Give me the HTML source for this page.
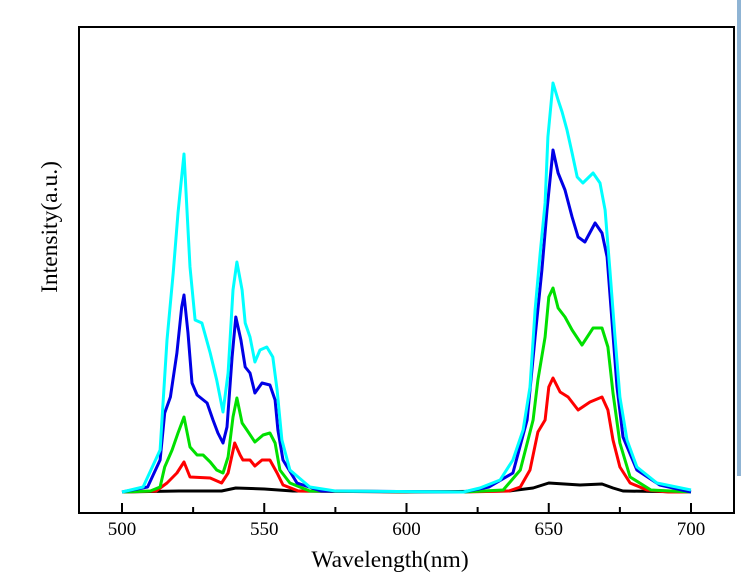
<!DOCTYPE html>
<html><head><meta charset="utf-8"><style>
html,body{margin:0;padding:0;background:#fff;}
svg{display:block;font-family:"Liberation Serif",serif;}
</style></head><body>
<svg width="741" height="577">
<rect x="737" y="0" width="4" height="476" fill="#8fb4d4"/>
<rect x="79" y="27" width="655" height="486" fill="none" stroke="#000" stroke-width="2"/>
<g id="ticks"></g>
<g id="series"></g>
<text x="57" y="227" font-size="23.5" text-anchor="middle" transform="rotate(-90 57 227)">Intensity(a.u.)</text>
<text x="390" y="567" font-size="23.5" text-anchor="middle">Wavelength(nm)</text>
</svg>
<script>
const xTicks=[500,550,600,650,700];
const minorTicks=[525,575,625,675];
const blackWl=[500,520,535,540,550,560,600,636,644.5,650,661,668.7,672.6,676.1,700];
const blackVal=[0,1,1,4,3,1,0,1,4,9,7,8,4,1,0];
const redWl=[500,512,515.8,519.3,521.8,523.9,531,535,537.3,539.6,541.5,542.5,545,546.7,549.2,552,554.5,556.6,562,620,636,640,643.4,646.2,648.7,650,651.5,654,656.8,660.3,664.5,668.7,670.8,672.6,675,678.6,684.5,692,700];
const redVal=[0,1,9,19,30,15,14,9,19,49,37,32,32,26,32,32,19,7,1,0,1,5,22,60,72,105,114,100,95,82,90,95,82,52,25,9,2,0,0];
const greenWl=[500,510,513.4,515,517.6,519.7,521.8,523.9,526.4,528.5,531,533.3,535.5,537.3,539,540.4,542.2,543.9,546.7,549.6,552,553.8,555.5,559,566,620,634,640,644.5,646.2,648.7,650,651.5,653.3,655.7,658.2,661.7,665.6,668.7,670.8,672.6,675,678.6,685.9,700];
const greenVal=[0,1,5,25,42,59,75,45,37,37,30,22,19,35,75,94,69,62,50,57,59,49,22,9,1,0,2,22,72,112,155,195,204,184,175,162,147,164,164,145,99,49,15,2,0];
const blueWl=[500,509,513.4,515,517,519.3,521,521.8,523.2,524.6,526.4,529.9,532,533.7,535.5,536.9,538.7,540,541.8,543.3,545,546.7,549.2,552,553.8,554.8,556.6,561.5,570,620,629,637.4,642.4,645.2,647.6,649.4,651.5,653.3,655.7,658.2,660.3,662.7,666.3,668.7,670.5,672.2,674,676.1,681,689,700];
const blueVal=[0,5,32,79,95,139,185,197,159,109,97,89,72,59,49,65,135,175,152,125,119,99,109,107,92,62,32,9,1,0,5,19,72,155,222,282,342,319,302,275,255,250,269,259,235,172,105,55,22,7,0];
const cyanWl=[500,507.4,513.4,515.8,518,519.7,521.8,523.9,525.7,528.1,531,533.3,535.5,537.3,539,540.4,542.2,543.3,545,546.7,548.5,550.9,553,554.5,556.2,559,566,575,620,625.8,632.9,637.4,641,643.4,645.2,647,648.7,649.7,651.5,653.3,654.7,656.4,658.2,660,662,665.6,668,669.8,671.5,673.3,675,677.5,681,688,700];
const cyanVal=[0,5,42,152,219,279,338,225,172,169,139,112,80,119,202,230,202,169,155,130,142,145,135,102,52,22,5,1,0,4,12,32,62,105,182,239,289,355,409,392,380,362,339,315,309,319,309,282,222,155,95,52,25,9,2];
const NS="http://www.w3.org/2000/svg";
const X=w=>122+(w-500)*2.845;
const Y=v=>492-v;
const tg=document.getElementById('ticks');
xTicks.forEach(t=>{
  const l=document.createElementNS(NS,'line');
  l.setAttribute('x1',X(t));l.setAttribute('x2',X(t));l.setAttribute('y1',513);l.setAttribute('y2',503);
  l.setAttribute('stroke','#000');l.setAttribute('stroke-width','2');
  
  
  tg.appendChild(l);
  const tx=document.createElementNS(NS,'text');
  tx.setAttribute('x',X(t));tx.setAttribute('y',535);tx.setAttribute('font-size','19');tx.setAttribute('text-anchor','middle');
  tx.textContent=t;
  
  
  tg.appendChild(tx);
});
minorTicks.forEach(t=>{
  const l=document.createElementNS(NS,'line');
  l.setAttribute('x1',X(t));l.setAttribute('x2',X(t));l.setAttribute('y1',513);l.setAttribute('y2',507);
  l.setAttribute('stroke','#000');l.setAttribute('stroke-width','2');
  
  
  tg.appendChild(l);
});
const sg=document.getElementById('series');
[[blackWl,blackVal,'#000','black-series'],[redWl,redVal,'#ff0000','red-series'],[greenWl,greenVal,'#00e000','green-series'],[blueWl,blueVal,'#0000e6','blue-series'],[cyanWl,cyanVal,'#00ffff','cyan-series']].forEach(s=>{
  const p=document.createElementNS(NS,'polyline');
  p.setAttribute('points',s[0].map((w,i)=>X(w).toFixed(1)+','+Y(s[1][i]).toFixed(1)).join(' '));
  p.setAttribute('fill','none');p.setAttribute('stroke',s[2]);p.setAttribute('stroke-width','3');p.setAttribute('stroke-linejoin','round');
  
  
  sg.appendChild(p);
});
</script>
</body></html>
